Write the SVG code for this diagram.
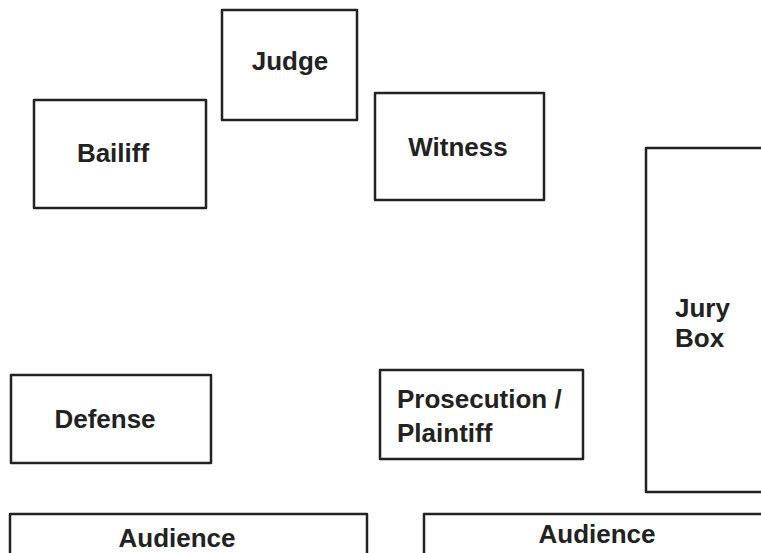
<svg xmlns="http://www.w3.org/2000/svg" width="761" height="553" viewBox="0 0 761 553">
<style>
.b{fill:none;stroke:#222;stroke-width:2.5;stroke-linejoin:round}
.t{font-family:"Liberation Sans",Arial,sans-serif;font-weight:bold;font-size:26px;fill:#222}
.c{text-anchor:middle}
</style>
<rect width="761" height="553" fill="#fff"/>
<g id="judge"><rect class="b" x="222" y="10" width="135" height="110"/><text class="t c" x="290" y="70">Judge</text></g>
<g id="bailiff"><rect class="b" x="34" y="100" width="172" height="108"/><text class="t c" x="113" y="162">Bailiff</text></g>
<g id="witness"><rect class="b" x="375" y="93" width="169" height="107"/><text class="t c" x="458" y="156">Witness</text></g>
<g id="jury"><path class="b" d="M763,148 H646 V492 H763"/><text class="t" x="675" y="317">Jury</text><text class="t" x="675" y="347">Box</text></g>
<g id="defense"><rect class="b" x="11" y="375" width="200" height="88"/><text class="t c" x="105" y="428">Defense</text></g>
<g id="prosecution"><rect class="b" x="380" y="370" width="203" height="89"/><text class="t" x="397" y="408">Prosecution /</text><text class="t" x="397" y="442">Plaintiff</text></g>
<g id="audience-left"><path class="b" d="M10,555 V514 H367 V555"/><text class="t c" x="177" y="547">Audience</text></g>
<g id="audience-right"><path class="b" d="M424,555 V514 H763"/><text class="t c" x="597" y="543">Audience</text></g>
<g id="connectors"></g>
</svg>
